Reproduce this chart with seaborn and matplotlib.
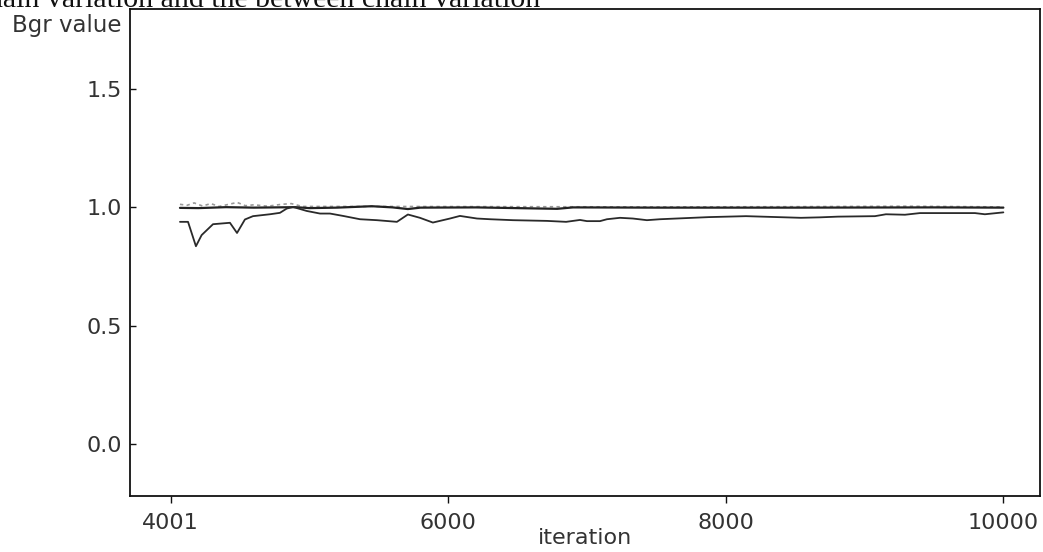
import pandas as pd
import matplotlib
matplotlib.use("Agg")
import matplotlib.pyplot as plt
import seaborn as sns

# BGR ratio (lower line)
ratio_iter = [4068, 4126, 4183, 4224, 4306, 4428, 4479, 4536, 4594, 4716, 4788,
              4837, 4882, 4981, 5077, 5149, 5243, 5365, 5487, 5631, 5710, 5797,
              5890, 6013, 6085, 6208, 6302, 6467, 6712, 6850, 6950, 7000, 7094,
              7144, 7238, 7331, 7432, 7526, 7879, 8146, 8542, 8679, 8809, 9075,
              9154, 9291, 9399, 9795, 9867, 10000]
ratio_val = [0.938, 0.938, 0.835, 0.882, 0.928, 0.934, 0.891, 0.948, 0.962, 0.970, 0.976,
             0.994, 1.001, 0.984, 0.973, 0.973, 0.963, 0.949, 0.945, 0.938, 0.969, 0.955,
             0.935, 0.952, 0.963, 0.952, 0.949, 0.945, 0.942, 0.938, 0.946, 0.941, 0.941,
             0.949, 0.955, 0.952, 0.945, 0.949, 0.958, 0.962, 0.955, 0.957, 0.960, 0.962,
             0.970, 0.968, 0.975, 0.975, 0.970, 0.978]

# pooled width (dark line near 1)
pooled_iter = [4068, 4200, 4400, 4600, 4900, 5000, 5200, 5450, 5600, 5710, 5800,
               6200, 6785, 6900, 7500, 8500, 9500, 10000]
pooled_val = [0.997, 0.996, 1.000, 0.998, 1.000, 0.996, 0.998, 1.004, 0.999, 0.992, 0.998,
              0.999, 0.993, 0.999, 0.998, 0.998, 0.999, 0.998]

# within width (light dotted line)
within_iter = [4068, 4120, 4170, 4230, 4290, 4350, 4420, 4480, 4540, 4600, 4700,
               4800, 4870, 4950, 5500, 6500, 7500, 8500, 9300, 10000]
within_val = [1.012, 1.008, 1.018, 1.005, 1.015, 1.003, 1.012, 1.020, 1.006, 1.010, 1.004,
              1.012, 1.015, 1.003, 1.003, 1.002, 1.001, 1.002, 1.004, 1.001]

x_ticks = [4001, 6000, 8000, 10000]
y_ticks = [0.0, 0.5, 1.0, 1.5]

sns.set_theme(style="white")
plt.rcParams['font.family'] = ['DejaVu Sans']

fig = plt.figure(figsize=(10.43, 5.52), dpi=100)
ax = fig.add_axes([130 / 1043, 56 / 552, 910 / 1043, 487 / 552])

sns.lineplot(x=within_iter, y=within_val, ax=ax, color="#9a9a9a", lw=1.2,
             linestyle=(0, (2, 2)))
sns.lineplot(x=pooled_iter, y=pooled_val, ax=ax, color="#222222", lw=1.6)
sns.lineplot(x=ratio_iter, y=ratio_val, ax=ax, color="#2a2a2a", lw=1.3)

ax.set_xlim(3708, 10264)
ax.set_ylim(-0.22, 1.837)
ax.set_xticks(x_ticks)
ax.set_xticklabels([str(t) for t in x_ticks])
ax.set_yticks(y_ticks)
ax.set_yticklabels([f"{t:.1f}" for t in y_ticks])

for s in ax.spines.values():
    s.set_visible(True)
    s.set_color("#111111")
    s.set_linewidth(1.3)

ax.tick_params(axis="x", direction="out", length=5, width=1, colors="#111111",
               labelcolor="#333333", labelsize=16, pad=7)
ax.tick_params(axis="y", direction="in", length=4, width=1, colors="#111111",
               labelcolor="#333333", labelsize=16, pad=6)
ax.tick_params(bottom=True, left=True)

ax.set_xlabel("iteration", fontsize=16, color="#333333", labelpad=-3)
ax.set_ylabel("")

fig.text(121 / 1043, 1 - 32 / 552, "Bgr value", ha="right", va="baseline",
         fontsize=16.5, color="#333333")
# caption line of the scanned page, cut off at the top edge as in the reference
fig.text(540 / 1043, 1 - 7 / 552,
         "the within chain variation and the between chain variation",
         ha="right", va="baseline", fontsize=21.5, color="#111111",
         family="Liberation Serif")

fig.savefig("out.png", dpi=100)
